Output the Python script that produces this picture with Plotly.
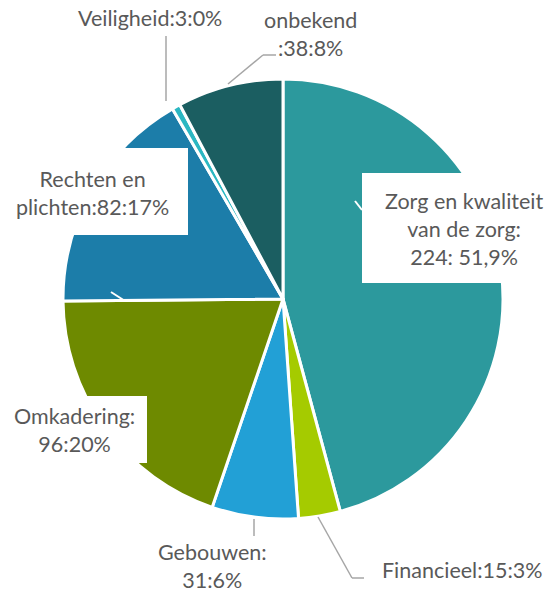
import plotly.graph_objects as go

categories = ["Zorg en kwaliteit van de zorg", "Financieel", "Gebouwen", "Omkadering",
              "Rechten en plichten", "Veiligheid", "onbekend"]
values = [224, 15, 31, 96, 82, 3, 38]
label_texts = ["Zorg en kwaliteit<br>van de zorg:<br>224: 51,9%", "Financieel:15:3%",
               "Gebouwen:<br>31:6%", "Omkadering:<br>96:20%", "Rechten en<br>plichten:82:17%",
               "Veiligheid:3:0%", "onbekend<br>:38:8%"]
colors = ["#2C999D", "#A5CB00", "#22A0D6", "#6E8A00", "#1C7DA9", "#2BB7C2", "#1B5E61"]

W, H = 549, 593
def px(x): return x / W
def py(y): return 1 - y / H

cx, cy, r = 283, 299, 220

fig = go.Figure(go.Pie(
    labels=categories, values=values, sort=False, direction="clockwise", rotation=0,
    marker=dict(colors=colors, line=dict(color="white", width=3)),
    textinfo="none", hoverinfo="label+value", showlegend=False,
    domain=dict(x=[px(cx - r), px(cx + r)], y=[py(cy + r), py(cy - r)]),
))

shapes = []
grey = "#A6A6A6"
def seg(x0, y0, x1, y1, color=grey, w=1.5):
    shapes.append(dict(type="line", xref="paper", yref="paper", x0=px(x0), y0=py(y0),
                       x1=px(x1), y1=py(y1), line=dict(color=color, width=w), layer="above"))
seg(166, 36, 166, 101)
seg(228, 84, 263, 55); seg(263, 55, 276, 55)
seg(254, 519, 254, 536)
seg(318, 517, 352, 578); seg(352, 578, 364, 578)
seg(355, 201, 362, 210, color="white", w=2)
seg(111, 292, 125, 301, color="white", w=2)

def box(x0, y0, x1, y1):
    shapes.append(dict(type="rect", xref="paper", yref="paper", x0=px(x0), y0=py(y0),
                       x1=px(x1), y1=py(y1), fillcolor="white", line=dict(width=0), layer="above"))
box(362, 173, 549, 283)
box(10, 148, 188, 235)
box(5, 396, 147, 463)

fig.update_layout(shapes=shapes)

font = dict(family="Lato, Open Sans, sans-serif", size=21.5, color="#595959")
label_pos = [(464, 229), (462, 570), (212, 566), (74, 430), (92, 193), (150, 18), (310, 34)]
for t, (x, y) in zip(label_texts, label_pos):
    fig.add_annotation(text=t, x=px(x), y=py(y), xref="paper", yref="paper",
                       showarrow=False, font=font, align="center",
                       xanchor="center", yanchor="middle")

fig.update_layout(width=W, height=H, margin=dict(l=0, r=0, t=0, b=0),
                  paper_bgcolor="white", plot_bgcolor="white")
fig.write_html("out.html", config={"displayModeBar": False},
               post_script="document.body.style.margin='0';")
